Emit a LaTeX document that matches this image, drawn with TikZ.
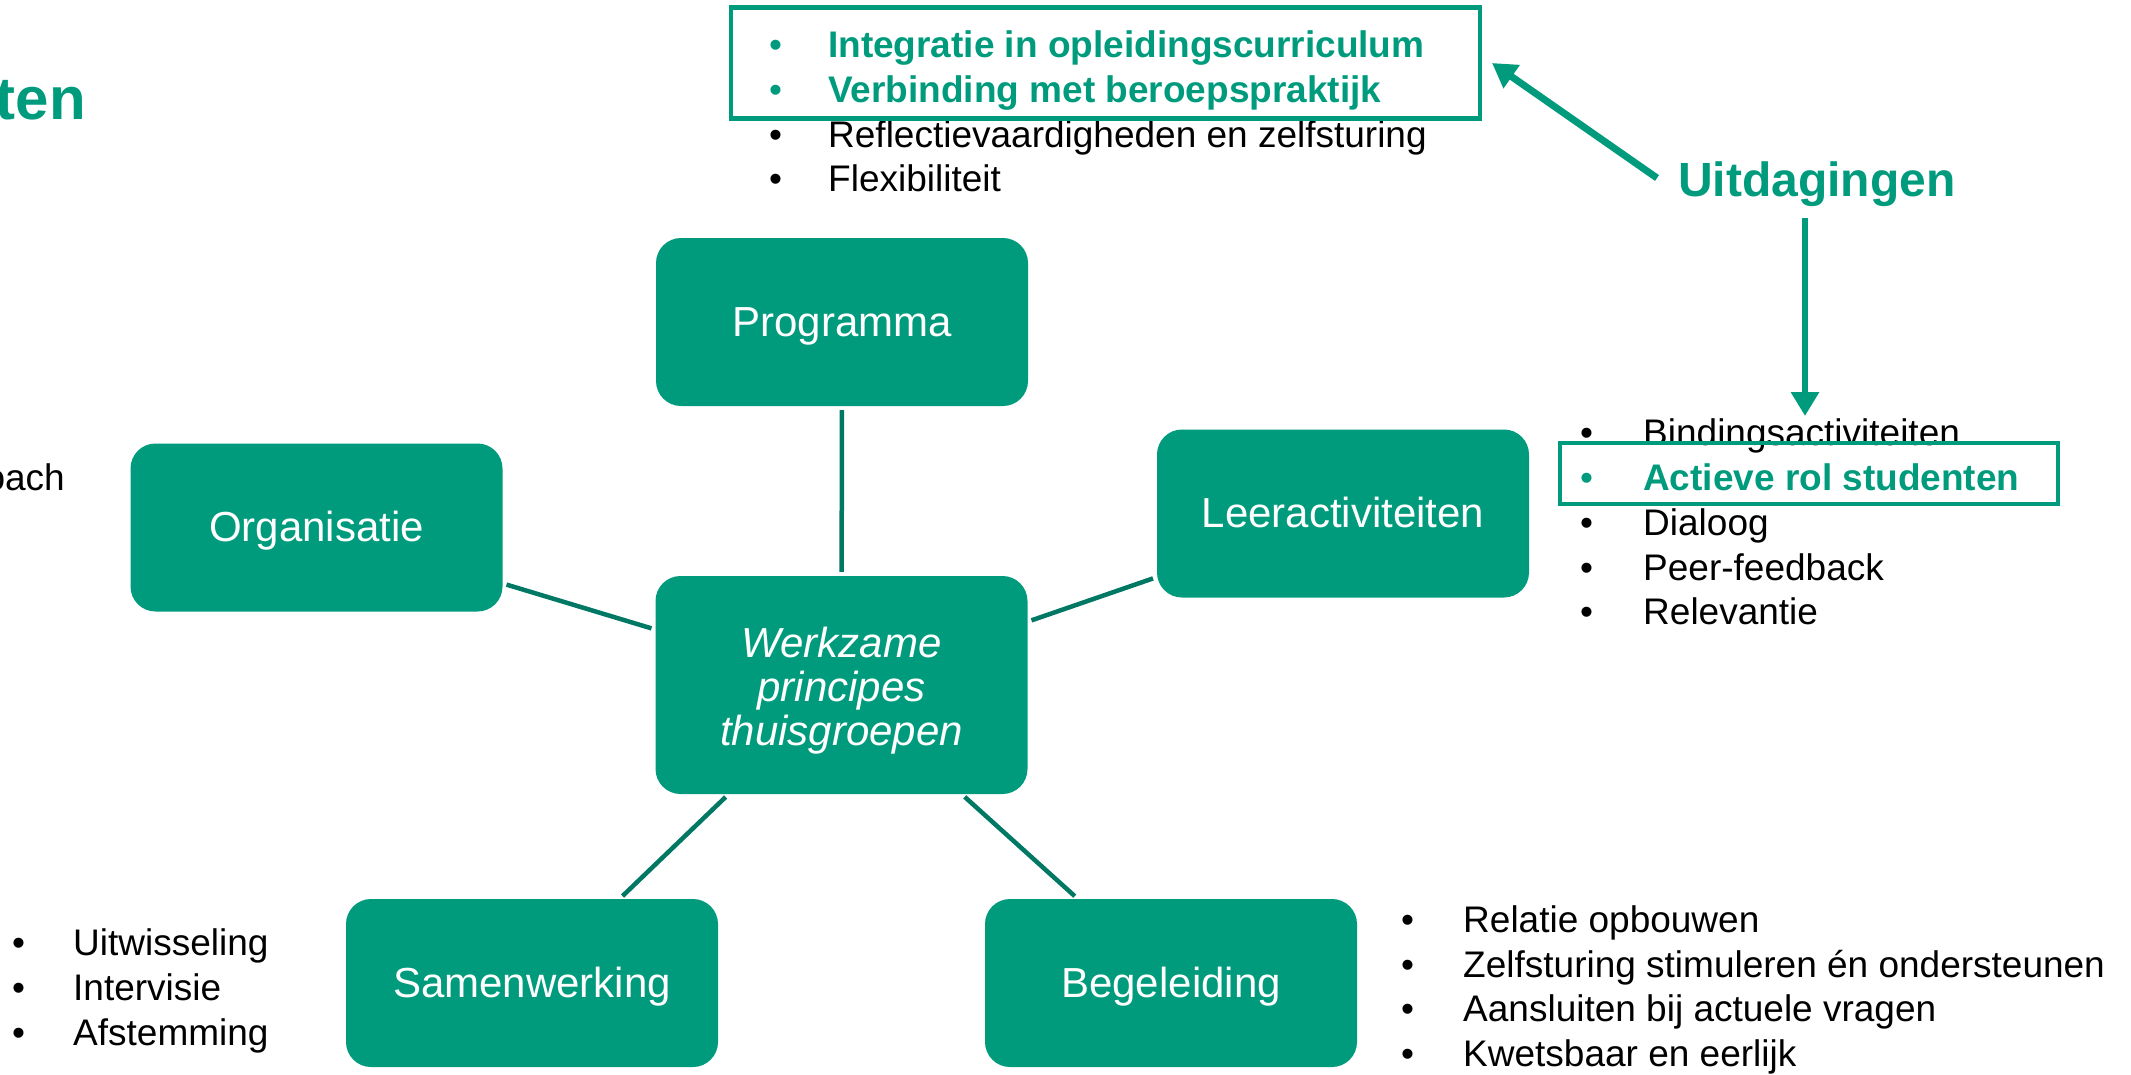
\documentclass[tikz,border=0pt]{standalone}
\usepackage{fontspec}
\setmainfont{Liberation Sans}
\usetikzlibrary{arrows.meta}
\definecolor{teal1}{RGB}{0,155,125}
\definecolor{teal2}{RGB}{0,120,100}
\begin{document}
\begin{tikzpicture}[x=1pt,y=-1pt,
 box/.style={fill=teal1, rounded corners=25pt, minimum width=372pt, minimum height=168pt, inner sep=0pt, text=white, font=\fontsize{42}{44}\selectfont, align=center},
 sbox/.style={box, text height=32pt, text depth=4pt},
 conn/.style={draw=teal2, line width=4.5pt, shorten >=4pt, shorten <=4pt},
 bul/.style={anchor=base west, inner sep=0pt, font=\fontsize{37}{45}\selectfont},
 itm/.style={anchor=base west, inner sep=0pt, font=\fontsize{37}{45}\selectfont},
 gbul/.style={bul, text=teal1},
 hitm/.style={itm, text=teal1, font=\fontsize{37}{45}\selectfont\bfseries},
 hl/.style={draw=teal1, line width=4.5pt, inner sep=0pt},
 bigarrow/.style={draw=teal1, line width=7pt, -{Triangle[length=24pt,width=27pt]}}]
\useasboundingbox (0,0) rectangle (2131,1074);
\clip (0,0) rectangle (2131,1074);

% partial texts at the left edge
\node[anchor=base east, inner sep=0pt, text=teal1, font=\fontsize{60}{60}\selectfont\bfseries] (ten) at (86,119) {ten};
\node[anchor=base east, inner sep=0pt, font=\fontsize{37}{45}\selectfont] (oach) at (65,490) {oach};

% boxes
\node[sbox] (prog) at (842,322) {Programma};
\node[sbox] (org) at (316.5,527.5) {Organisatie};
\node[sbox] (leer) at (1343,513.5) {Leeractiviteiten};
\node[box, minimum height=218pt, font=\fontsize{42}{44}\selectfont\itshape] (cen) at (841.5,685) {\rule{0pt}{41pt}Werkzame\\principes\\thuisgroepen};
\node[sbox] (sam) at (532,983) {Samenwerking};
\node[sbox] (beg) at (1171,983) {Begeleiding};

% connectors
\draw[conn] (prog) -- (cen);
\draw[conn] (org) -- (cen);
\draw[conn] (leer) -- (cen);
\draw[conn] (sam) -- (cen);
\draw[conn] (beg) -- (cen);

% top list
\node[gbul] (tb1) at (769,57) {•};
\node[hitm] (tt1) at (828,57) {Integratie in opleidingscurriculum};
\node[gbul] (tb2) at (769,102) {•};
\node[hitm] (tt2) at (828,102) {Verbinding met beroepspraktijk};
\node[bul] (tb3) at (769,147) {•};
\node[itm] (tt3) at (828,147) {Reflectievaardigheden en zelfsturing};
\node[bul] (tb4) at (769,191) {•};
\node[itm] (tt4) at (828,191) {Flexibiliteit};

% right list
\node[bul] (rb1) at (1580,445) {•};
\node[itm] (rt1) at (1643,445) {Bindingsactiviteiten};
\node[gbul] (rb2) at (1580,490) {•};
\node[hitm] (rt2) at (1643,490) {Actieve rol studenten};
\node[bul] (rb3) at (1580,535) {•};
\node[itm] (rt3) at (1643,535) {Dialoog};
\node[bul] (rb4) at (1580,580) {•};
\node[itm] (rt4) at (1643,580) {Peer-feedback};
\node[bul] (rb5) at (1580,624) {•};
\node[itm] (rt5) at (1643,624) {Relevantie};

% bottom-left list
\node[bul] (lb1) at (12,955) {•};
\node[itm] (lt1) at (73,955) {Uitwisseling};
\node[bul] (lb2) at (12,1000) {•};
\node[itm] (lt2) at (73,1000) {Intervisie};
\node[bul] (lb3) at (12,1045) {•};
\node[itm] (lt3) at (73,1045) {Afstemming};

% bottom-right list
\node[bul] (bb1) at (1401,932) {•};
\node[itm] (bt1) at (1463,932) {Relatie opbouwen};
\node[bul] (bb2) at (1401,977) {•};
\node[itm] (bt2) at (1463,977) {Zelfsturing stimuleren én ondersteunen};
\node[bul] (bb3) at (1401,1021) {•};
\node[itm] (bt3) at (1463,1021) {Aansluiten bij actuele vragen};
\node[bul] (bb4) at (1401,1066) {•};
\node[itm] (bt4) at (1463,1066) {Kwetsbaar en eerlijk};

% highlight frames
\node[hl, minimum width=749pt, minimum height=111pt] (hltop) at (1105.5,63) {};
\node[hl, minimum width=498pt, minimum height=61pt] (hlright) at (1809,473.5) {};

% title and arrows
\node[anchor=base west, inner sep=0pt, text=teal1, font=\fontsize{48}{48}\selectfont\bfseries] (uit) at (1678,196) {Uitdagingen};
\coordinate (a1s) at (1657,178);
\coordinate (a1e) at (1492,63);
\draw[bigarrow] (a1s) -- (a1e);
\coordinate (a2s) at (1805,218);
\coordinate (a2e) at (1805,416);
\draw[bigarrow, line width=6pt] (a2s) -- (a2e);
\end{tikzpicture}
\end{document}
